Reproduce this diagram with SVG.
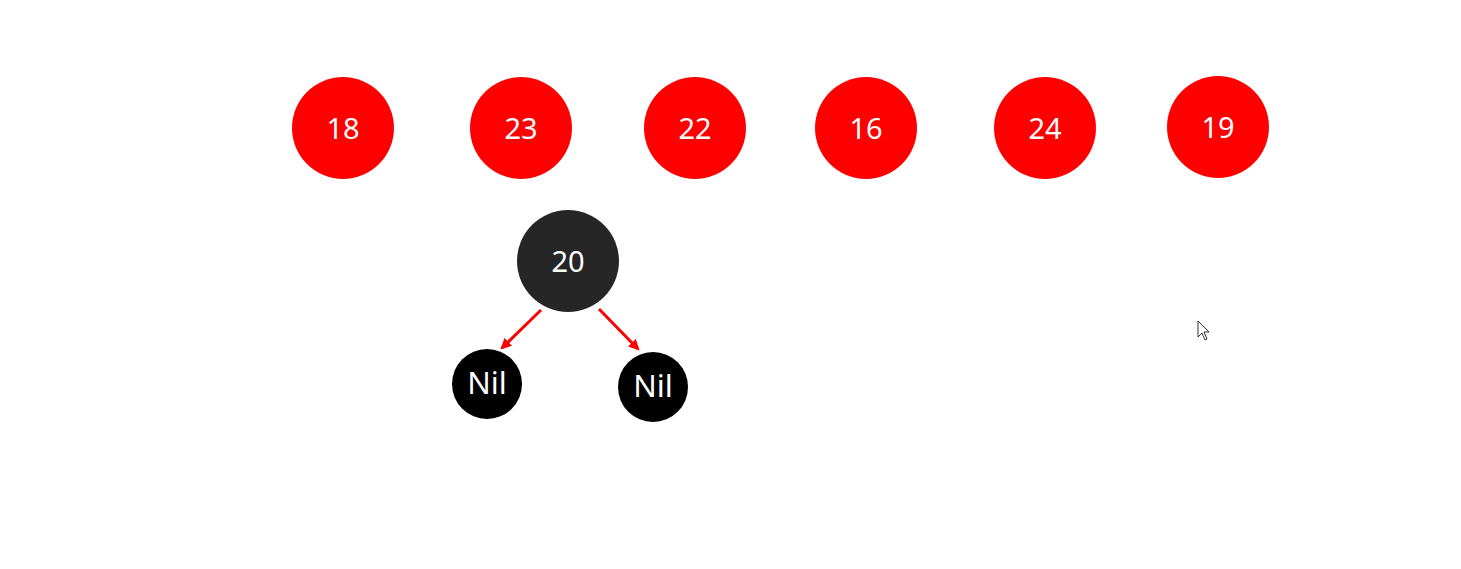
<svg xmlns="http://www.w3.org/2000/svg" width="1461" height="569" viewBox="0 0 1461 569">
<style>
.red{fill:#ff0000}
.dark{fill:#262626}
.nil{fill:#000000}
.lbl{font-family:"Noto Sans","Open Sans",sans-serif;font-size:29px;fill:#ffffff;text-anchor:middle;dominant-baseline:central}
.nl{font-size:31px}
.edge{stroke:#ff0000;stroke-width:3;fill:none;marker-end:url(#ah)}
</style>
<defs>
<marker id="ah" markerWidth="11" markerHeight="11" refX="8" refY="5" orient="auto" markerUnits="userSpaceOnUse" viewBox="0 0 10 10">
<path d="M0,0 L10,5 L0,10 Z" fill="#ff0000"/>
</marker>
</defs>
<rect width="1461" height="569" fill="#ffffff"/>
<g id="n18"><circle class="red" cx="343" cy="128" r="51"/><text class="lbl" x="343" y="127">18</text></g>
<g id="n23"><circle class="red" cx="521" cy="128" r="51"/><text class="lbl" x="521" y="127">23</text></g>
<g id="n22"><circle class="red" cx="695" cy="128" r="51"/><text class="lbl" x="695" y="127">22</text></g>
<g id="n16"><circle class="red" cx="866" cy="128" r="51"/><text class="lbl" x="866" y="127">16</text></g>
<g id="n24"><circle class="red" cx="1045" cy="128" r="51"/><text class="lbl" x="1045" y="127">24</text></g>
<g id="n19"><circle class="red" cx="1218" cy="127" r="51"/><text class="lbl" x="1218" y="126">19</text></g>
<g id="n20"><circle class="dark" cx="568" cy="261" r="51"/><text class="lbl" x="568" y="260">20</text></g>
<g id="nilL"><circle class="nil" cx="487" cy="384" r="35"/><text class="lbl nl" x="487" y="382">Nil</text></g>
<g id="nilR"><circle class="nil" cx="653" cy="387" r="35"/><text class="lbl nl" x="653" y="385">Nil</text></g>
<g id="connectors">
<line class="edge" x1="541" y1="310" x2="502" y2="348"/>
<line class="edge" x1="599" y1="309" x2="638" y2="349"/>
</g>
<path d="M1198,321 L1198,337 L1202,333 L1205,340 L1207,339 L1204,332 L1209,332 Z" fill="#ffffff" stroke="#000000" stroke-width="0.8"/>
</svg>
